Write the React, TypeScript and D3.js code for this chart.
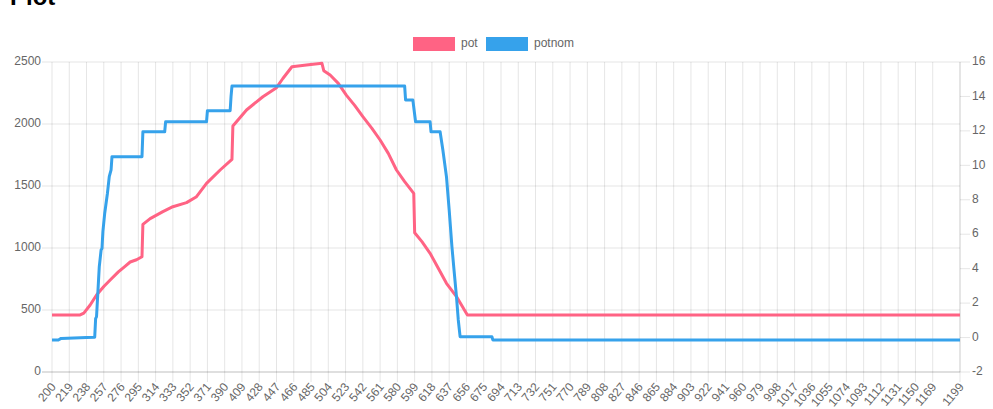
import React from "react";
import * as d3 from "d3";

const title = "Plot";
const seriesNames = ["pot", "potnom"];
const seriesColors = ["#ff6384", "#36a2eb"];

const xTickLabels = [
  "200", "219", "238", "257", "276", "295", "314", "333", "352", "371", "390", "409", "428",
  "447", "466", "485", "504", "523", "542", "561", "580", "599", "618", "637", "656", "675",
  "694", "713", "732", "751", "770", "789", "808", "827", "846", "865", "884", "903", "922",
  "941", "960", "979", "998", "1017", "1036", "1055", "1074", "1093", "1112", "1131", "1150",
  "1169", "1199",
];
const xFirst = 200;
const xLast = 1199;

const leftTicks = [0, 500, 1000, 1500, 2000, 2500];
const rightTicks = [-2, 0, 2, 4, 6, 8, 10, 12, 14, 16];

// pot (left axis): [category, value]
const potData: [number, number][] = [
  [200, 460], [231, 460], [235, 475], [242, 540], [249, 621], [257, 690], [264, 742],
  [273, 807], [280, 850], [286, 887], [293, 905], [299, 930], [300, 1191], [308, 1237],
  [322, 1293], [333, 1333], [348, 1366], [359, 1414], [370, 1521], [385, 1629],
  [398, 1715], [399, 1984], [414, 2113], [432, 2220], [447, 2293], [454, 2367],
  [464, 2462], [480, 2476], [497, 2489], [499, 2430], [506, 2395], [515, 2328],
  [524, 2231], [533, 2150], [542, 2059], [552, 1965], [561, 1871], [570, 1763],
  [579, 1629], [588, 1535], [598, 1441], [599, 1123], [607, 1051], [616, 957],
  [625, 836], [634, 715], [645, 608], [657, 460], [1199, 460],
];

// potnom (right axis): [category, value]
const potnomData: [number, number][] = [
  [200, -0.14], [207, -0.14], [210, -0.05], [238, 0.0], [247, 0.02], [248, 1.1],
  [249, 1.21], [251, 3.15], [252, 4.1], [254, 5.08], [255, 5.18], [256, 6.15],
  [258, 7.22], [261, 8.38], [263, 9.34], [265, 9.73], [266, 10.5], [299, 10.5],
  [300, 11.95], [324, 11.95], [325, 12.53], [370, 12.53], [371, 13.17], [396, 13.17],
  [397, 14.0], [398, 14.6], [588, 14.6], [589, 13.8], [597, 13.8], [600, 12.53],
  [616, 12.53], [617, 11.95], [627, 11.95], [630, 10.9], [634, 9.34], [637, 7.4],
  [640, 5.28], [642, 4.11], [645, 2.37], [647, 1.02], [649, 0.05], [684, 0.05],
  [685, -0.14], [1199, -0.14],
];

const W = 993;
const H = 409;
const L = 52;
const R = 960;
const T = 62;
const B = 372;

export default function App() {
  const x = d3.scaleLinear().domain([xFirst, xLast]).range([L, R]);
  const yL = d3.scaleLinear().domain([0, 2500]).range([B, T]);
  const yR = d3.scaleLinear().domain([-2, 16]).range([B, T]);

  const lineL = d3
    .line<[number, number]>()
    .x((d) => x(d[0]))
    .y((d) => yL(d[1]));
  const lineR = d3
    .line<[number, number]>()
    .x((d) => x(d[0]))
    .y((d) => yR(d[1]));

  const grid = "rgba(0,0,0,0.1)";
  const font = "'Helvetica Neue', Helvetica, Arial, 'Liberation Sans', sans-serif";

  return (
    <svg
      width={W}
      height={H}
      style={{ position: "absolute", left: 0, top: 0, background: "#fff" }}
      fontFamily={font}
    >
      <text x={10} y={5} fontSize={24} fontWeight="bold" fill="#000">
        {title}
      </text>

      {/* legend */}
      {seriesNames.map((n, i) => {
        const bx = i === 0 ? 414 : 487;
        return (
          <g key={n}>
            <rect
              x={bx}
              y={38}
              width={40}
              height={12}
              fill={seriesColors[i]}
              stroke={seriesColors[i]}
              strokeWidth={2}
            />
            <text x={bx + 47} y={44} fontSize={12} fill="#666" dominantBaseline="middle">
              {n}
            </text>
          </g>
        );
      })}

      {/* vertical grid + x ticks */}
      {xTickLabels.map((lab) => {
        const xv = x(+lab);
        return (
          <g key={lab}>
            <line x1={xv} x2={xv} y1={T} y2={B + 10} stroke={grid} strokeWidth={1} />
            <text
              transform={`translate(${xv + 2},${B + 13}) rotate(-50)`}
              textAnchor="end"
              dominantBaseline="middle"
              fontSize={12}
              fill="#666"
            >
              {lab}
            </text>
          </g>
        );
      })}

      {/* horizontal grid + left ticks */}
      {leftTicks.map((t) => (
        <g key={"l" + t}>
          <line x1={L - 10} x2={R} y1={yL(t)} y2={yL(t)} stroke={t === 0 ? "rgba(0,0,0,0.25)" : grid} strokeWidth={1} />
          <text x={L - 11} y={yL(t)} textAnchor="end" dominantBaseline="middle" fontSize={12} fill="#666">
            {t}
          </text>
        </g>
      ))}

      {/* right ticks */}
      <line x1={R} x2={R} y1={T} y2={B} stroke={grid} strokeWidth={1} />
      {rightTicks.map((t) => (
        <g key={"r" + t}>
          <line x1={R} x2={R + 10} y1={yR(t)} y2={yR(t)} stroke={grid} strokeWidth={1} />
          <text x={R + 12} y={yR(t)} textAnchor="start" dominantBaseline="middle" fontSize={12} fill="#666">
            {t}
          </text>
        </g>
      ))}

      {/* series */}
      <path d={lineL(potData) || ""} fill="none" stroke={seriesColors[0]} strokeWidth={3} strokeLinejoin="round" />
      <path d={lineR(potnomData) || ""} fill="none" stroke={seriesColors[1]} strokeWidth={3} strokeLinejoin="round" />
    </svg>
  );
}
